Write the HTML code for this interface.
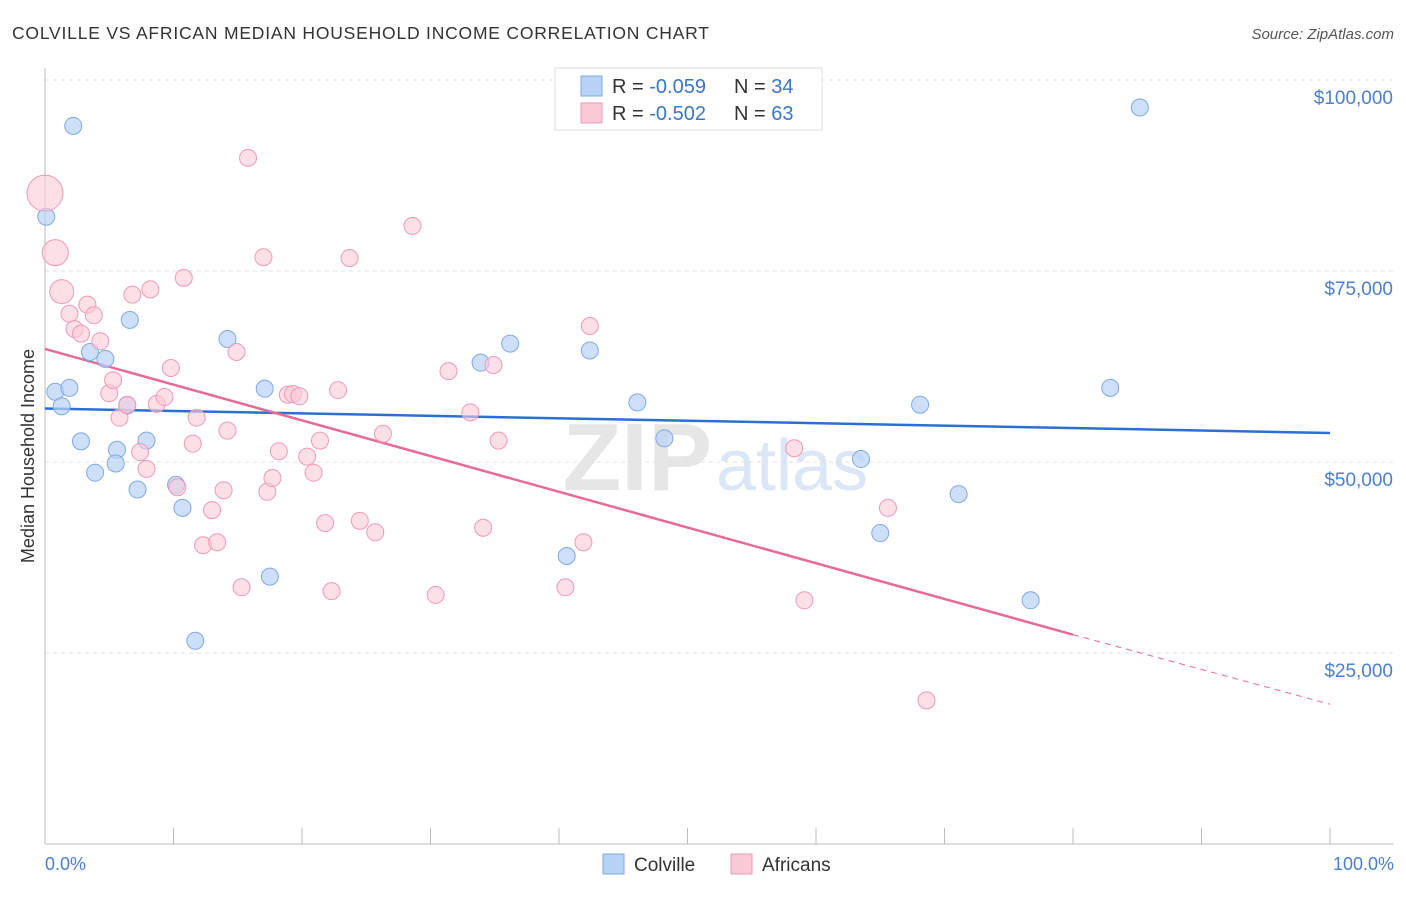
<!DOCTYPE html>
<html><head><meta charset="utf-8"><style>
body{margin:0;background:#fff;font-family:"Liberation Sans",sans-serif;}
svg text{font-family:"Liberation Sans",sans-serif;}
</style></head><body>
<svg width="1406" height="892" xmlns="http://www.w3.org/2000/svg">
<text x="12" y="39" font-size="17.5" fill="#333" textLength="697">COLVILLE VS AFRICAN MEDIAN HOUSEHOLD INCOME CORRELATION CHART</text>
<text x="1394" y="39" font-size="15" fill="#555" text-anchor="end" font-style="italic">Source: ZipAtlas.com</text>
<text x="712" y="490" font-size="96" fill="#e6e6e6" text-anchor="end" font-family="Liberation Serif" font-weight="bold">ZIP</text>
<text x="716" y="490" font-size="72" fill="#dbe6f6">atlas</text>
<g id="grid"></g>
<g id="axes"></g>
<g id="trend"></g>
<g id="points"></g>
<text transform="translate(34,456) rotate(-90)" font-size="18" fill="#333" text-anchor="middle">Median Household Income</text>
<text x="45" y="870" font-size="18" fill="#4a7fd4">0.0%</text>
<text x="1394" y="870" font-size="18" fill="#4a7fd4" text-anchor="end">100.0%</text>
<g>
<rect x="555" y="68" width="267" height="62" fill="#fff" stroke="#ddd"/>
<rect x="581" y="76" width="21" height="20" fill="#b9d3f6" stroke="#7fa9e6"/>
<rect x="581" y="103" width="21" height="20" fill="#fbc9d8" stroke="#ef9ab5"/>
<text x="612" y="93" font-size="20" fill="#333">R = <tspan fill="#3a75d0">-0.059</tspan></text>
<text x="734" y="93" font-size="20" fill="#333">N = <tspan fill="#3a75d0">34</tspan></text>
<text x="612" y="120" font-size="20" fill="#333">R = <tspan fill="#3a75d0">-0.502</tspan></text>
<text x="734" y="120" font-size="20" fill="#333">N = <tspan fill="#3a75d0">63</tspan></text>
</g>
<g>
<rect x="603" y="854" width="21" height="20" fill="#b9d3f6" stroke="#7fa9e6"/>
<text x="634" y="871" font-size="19" fill="#333">Colville</text>
<rect x="731" y="854" width="21" height="20" fill="#fbc9d8" stroke="#ef9ab5"/>
<text x="762" y="871" font-size="19" fill="#333">Africans</text>
</g>
</svg>
<script>
const yTicks=[25000,50000,75000,100000];
const yTickLabels=["$25,000","$50,000","$75,000","$100,000"];
const colvilleX=[2.2,0.1,0.8,1.3,1.9,2.8,3.5,3.9,4.7,5.6,5.5,6.4,6.6,7.2,7.9,10.2,10.7,11.7,14.2,17.1,17.5,33.9,36.2,40.6,42.4,46.1,48.2,63.5,65.0,68.1,71.1,76.7,82.9,85.2];
const colvilleY=[94000,82100,59200,57300,59700,52700,64400,48600,63500,51600,49800,57400,68600,46400,52800,47000,44000,26600,66100,59600,35000,63000,65500,37700,64600,57800,53100,50400,40700,57500,45800,31900,59700,96400];
const africanX=[0,0.8,1.3,1.9,2.3,2.8,3.3,3.8,4.3,5.0,5.3,5.8,6.4,6.8,7.4,7.9,8.2,8.7,9.3,9.8,10.3,10.8,11.5,11.8,12.3,13.0,13.4,13.9,14.2,14.9,15.3,15.8,17.0,17.3,17.7,18.2,18.9,19.3,19.8,20.4,20.9,21.4,21.8,22.3,22.8,23.7,24.5,25.7,26.3,28.6,30.4,31.4,33.1,34.1,34.9,35.3,40.5,41.9,42.4,58.3,59.1,65.6,68.6];
const africanY=[85200,77400,72300,69400,67400,66800,70600,69200,65800,59000,60700,55800,57500,71900,51300,49100,72600,57600,58500,62300,46700,74100,52400,55800,39100,43700,39500,46300,54100,64400,33600,89800,76800,46100,47900,51400,58800,58900,58600,50700,48600,52800,42000,33100,59400,76700,42300,40800,53700,80900,32600,61900,56500,41400,62700,52800,33600,39500,67800,51800,31900,44000,18800];
const sizes=[18,13,12];
const colvilleTrend=[0,57000,100,53800];
const africanTrend=[0,64800,80,27400,100,18300];
const X=p=>45+p*12.85, Y=v=>844-v/25000*191;
const NS="http://www.w3.org/2000/svg";
function mk(t,a,parent){const e=document.createElementNS(NS,t);for(const k in a)e.setAttribute(k,a[k]);document.getElementById(parent).appendChild(e);return e;}
yTicks.forEach((v,i)=>{
 const l=mk('line',{x1:45,x2:1394,y1:Y(v),y2:Y(v),stroke:'#e0e0e0','stroke-dasharray':'4,4'},'grid');
 
 
 const t=mk('text',{x:1393,y:Y(v)+24,'font-size':19,fill:'#4a7fd4','text-anchor':'end'},'grid');
 t.textContent=yTickLabels[i];
 
 
});
const ax=mk('line',{x1:45,x2:1394,y1:844,y2:844,stroke:'#bbb'},'axes');


const ay=mk('line',{x1:45,x2:45,y1:68,y2:844,stroke:'#bbb'},'axes');


for(let i=0;i<=10;i++){const t=mk('line',{x1:X(i*10),x2:X(i*10),y1:828,y2:844,stroke:'#bbb'},'axes');
 
 }
colvilleX.forEach((x,i)=>{const c=mk('circle',{cx:X(x),cy:Y(colvilleY[i]),r:8.5,fill:'#b9d3f6','fill-opacity':0.7,stroke:'#7fa9e6','stroke-width':1},'points');
 
 });
africanX.forEach((x,i)=>{const c=mk('circle',{cx:X(x),cy:Y(africanY[i]),r:sizes[i]||8.5,fill:'#fbc9d8','fill-opacity':0.6,stroke:'#ef9ab5','stroke-width':1},'points');
 
 });
const t1=mk('line',{x1:X(colvilleTrend[0]),y1:Y(colvilleTrend[1]),x2:X(colvilleTrend[2]),y2:Y(colvilleTrend[3]),stroke:'#2b6fd6','stroke-width':2.5},'trend');


const t2=mk('line',{x1:X(africanTrend[0]),y1:Y(africanTrend[1]),x2:X(africanTrend[2]),y2:Y(africanTrend[3]),stroke:'#e86a96','stroke-width':2.5},'trend');


const t3=mk('line',{x1:X(africanTrend[2]),y1:Y(africanTrend[3]),x2:X(africanTrend[4]),y2:Y(africanTrend[5]),stroke:'#e86a96','stroke-width':1,'stroke-dasharray':'6,5'},'trend');


</script>
</body></html>
